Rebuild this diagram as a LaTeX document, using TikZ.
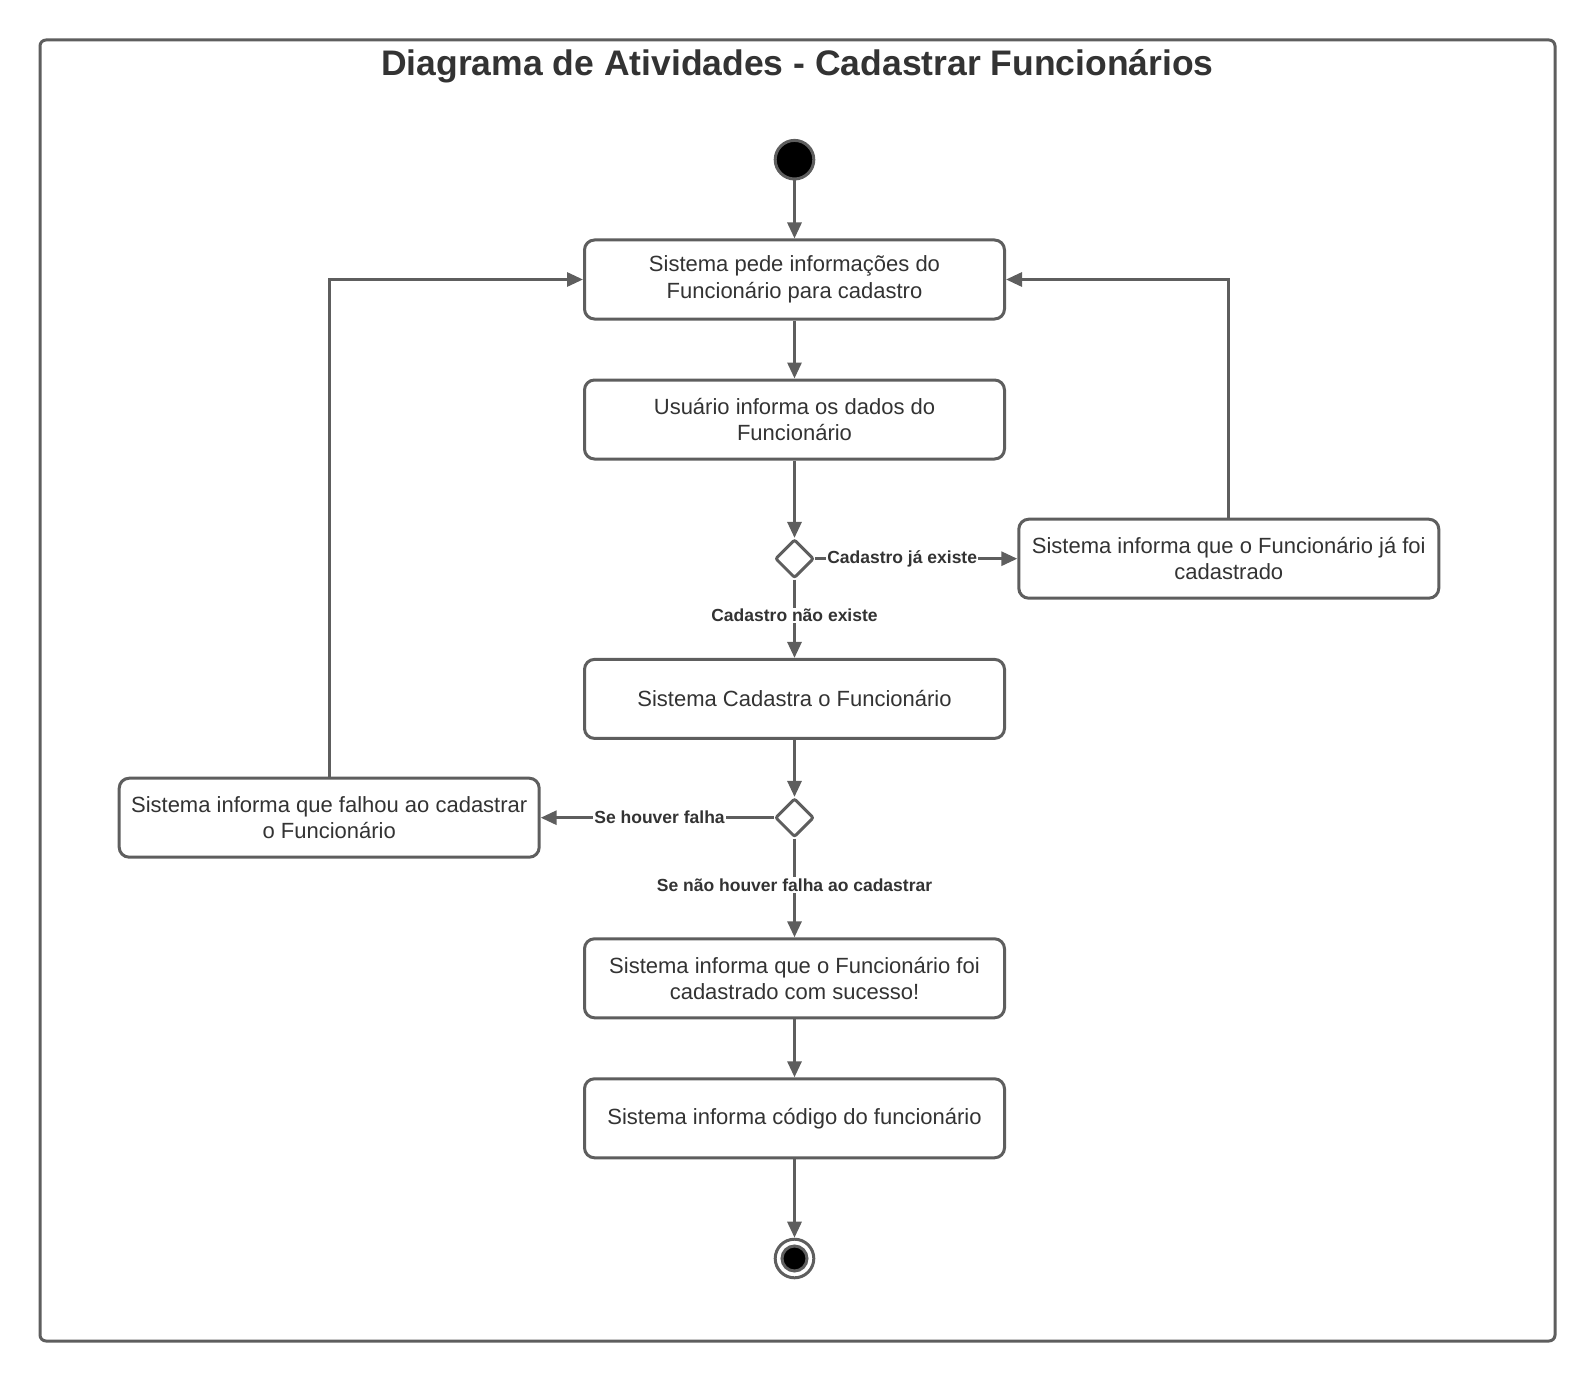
\documentclass[tikz,border=0pt]{standalone}
\usepackage{fontspec}
\setmainfont{Liberation Sans}
\usepackage{tikz}
\usetikzlibrary{arrows.meta,positioning,shapes.geometric}
\usepackage{xcolor}
\definecolor{linegray}{HTML}{5E5E5E}
\definecolor{textgray}{HTML}{333333}
\tikzset{
  activity/.style={draw=linegray,fill=white,rounded corners=5pt,align=center,line width=1.5pt,
    minimum width=210pt,minimum height=39.5pt,inner sep=2pt,text=textgray,
    font=\fontsize{11pt}{13.2pt}\selectfont},
  choice/.style={draw=linegray,fill=white,diamond,line width=1.5pt,rounded corners=1pt,
    minimum width=19.3pt,minimum height=19.3pt,inner sep=0pt},
  startstate/.style={draw=linegray,fill=black,circle,line width=1.5pt,minimum size=19.3pt,inner sep=0pt},
  endstate/.style={draw=linegray,fill=white,circle,line width=1.5pt,minimum size=19.3pt,inner sep=0pt},
  endcore/.style={draw=linegray,fill=black,circle,line width=1.5pt,minimum size=12.5pt,inner sep=0pt},
  arrow/.style={-{Triangle[length=8pt,width=7pt]},draw=linegray,line width=1.5pt},
  guard/.style={font=\bfseries\fontsize{8.75pt}{10pt}\selectfont,text=textgray,fill=white,inner sep=0.6pt},
  frame/.style={draw=linegray,line width=1.5pt,rounded corners=3pt}
}

\begin{document}
\begin{tikzpicture}[x=0.5pt,y=-0.5pt]
  \useasboundingbox (0,0) rectangle (1595,1380);
  \draw[frame] (40,40) rectangle (1555,1341);
  \node[text=textgray,font=\bfseries\fontsize{17.75pt}{20pt}\selectfont] (title) at (797.5,66) {Diagrama de Atividades - Cadastrar Funcionários};

  \node[startstate] (start) at (794.5,159.7) {};
  \node[activity,below=29pt of start] (pede) {Sistema pede informações do\\Funcionário para cadastro};
  \node[activity,below=29pt of pede] (informa) {Usuário informa os dados do\\Funcionário};
  \node[choice,below=38.7pt of informa] (existe) {};
  \node[activity,right=101pt of existe] (jaexiste) {Sistema informa que o Funcionário já foi\\cadastrado};
  \node[activity,below=39.2pt of existe] (cadastra) {Sistema Cadastra o Funcionário};
  \node[choice,below=28.5pt of cadastra] (falha) {};
  \node[activity,left=116.5pt of falha] (falhou) {Sistema informa que falhou ao cadastrar\\o Funcionário};
  \node[activity,below=49.4pt of falha] (sucesso) {Sistema informa que o Funcionário foi\\cadastrado com sucesso!};
  \node[activity,below=29pt of sucesso] (codigo) {Sistema informa código do funcionário};
  \node[endstate,below=39.2pt of codigo] (end) {};
  \node[endcore] (endin) at (end) {};

  \draw[arrow] (start) -- (pede);
  \draw[arrow] (pede) -- (informa);
  \draw[arrow] (informa) -- (existe);
  \draw[arrow] (existe) -- node[guard,pos=0.43] {Cadastro já existe} (jaexiste);
  \draw[arrow] (existe) -- node[guard,pos=0.46] {Cadastro não existe} (cadastra);
  \draw[arrow] (jaexiste.north) |- (pede.east);
  \draw[arrow] (cadastra) -- (falha);
  \draw[arrow] (falha) -- node[guard,pos=0.49] {Se houver falha} (falhou);
  \draw[arrow] (falha) -- node[guard,pos=0.47] {Se não houver falha ao cadastrar} (sucesso);
  \draw[arrow] (falhou.north) |- (pede.west);
  \draw[arrow] (sucesso) -- (codigo);
  \draw[arrow] (codigo) -- (end);
\end{tikzpicture}
\end{document}
